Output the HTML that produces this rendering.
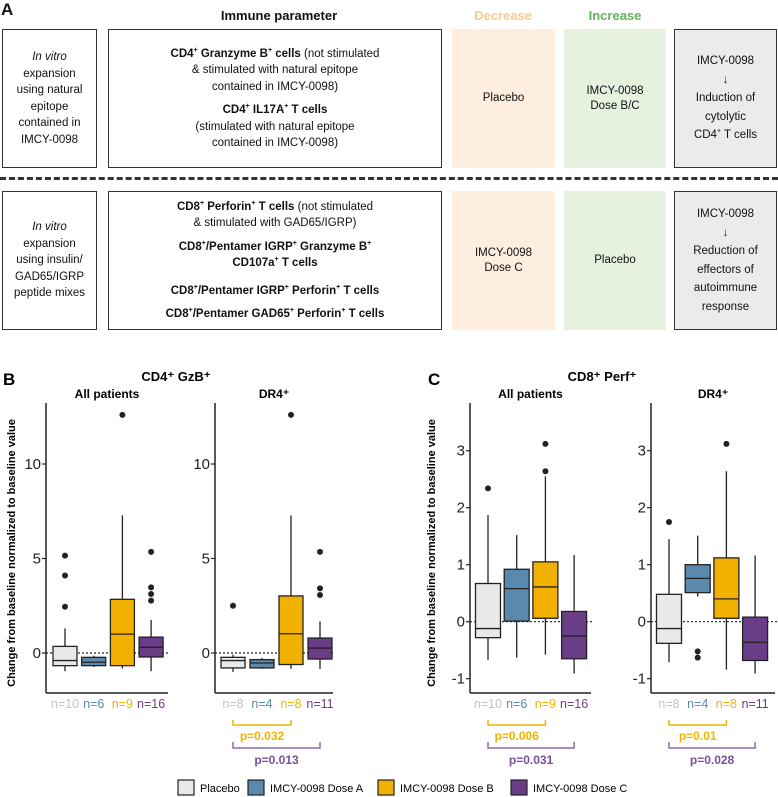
<!DOCTYPE html>
<html><head><meta charset="utf-8"><style>
body{margin:0;width:778px;height:797px;background:#fff;position:relative;overflow:hidden;font-family:"Liberation Sans",Arial,sans-serif;color:#111}
.a{position:absolute}
.box{position:absolute;box-sizing:border-box;border:1.5px solid #333;display:flex;align-items:center;justify-content:center;text-align:center;font-size:11.5px;line-height:16.5px}
.bg{position:absolute;display:flex;align-items:center;justify-content:center;text-align:center;font-size:11.5px;line-height:15px}
.hd{position:absolute;font-weight:bold;font-size:13px;transform:translateX(-50%)}
sup{font-size:7px;vertical-align:5px;line-height:0}
p{margin:0}
</style></head><body>
<div class="a" style="left:1px;top:0px;font-weight:bold;font-size:17px">A</div>
<div class="hd" style="left:279px;top:8px">Immune parameter</div>
<div class="hd" style="left:503px;top:8px;color:#f6cc8f">Decrease</div>
<div class="hd" style="left:615px;top:8px;color:#5fb55a">Increase</div>

<div class="box" style="left:2px;top:29px;width:95px;height:139px"><div><i>In vitro</i><br>expansion<br>using natural<br>epitope<br>contained in<br>IMCY-0098</div></div>
<div class="box" style="left:108px;top:29px;width:334px;height:139px"><div><p><b>CD4<sup>+</sup> Granzyme B<sup>+</sup> cells</b> (not stimulated<br>&amp; stimulated with natural epitope<br>contained in IMCY-0098)</p><p style="margin-top:7px"><b>CD4<sup>+</sup> IL17A<sup>+</sup> T cells</b><br>(stimulated with natural epitope<br>contained in IMCY-0098)</p></div></div>
<div class="bg" style="left:452px;top:29px;width:103px;height:139px;background:#fdeee0">Placebo</div>
<div class="bg" style="left:564px;top:29px;width:102px;height:139px;background:#e6f1e0">IMCY-0098<br>Dose B/C</div>
<div class="box" style="left:674px;top:29px;width:103px;height:139px;background:#ebebeb;line-height:18.5px"><div>IMCY-0098<br>↓<br>Induction of<br>cytolytic<br>CD4<sup>+</sup> T cells</div></div>

<div class="a" style="left:0;top:177px;width:778px;border-top:3px dashed #333"></div>

<div class="box" style="left:2px;top:191px;width:95px;height:139px"><div><i>In vitro</i><br>expansion<br>using insulin/<br>GAD65/IGRP<br>peptide mixes</div></div>
<div class="box" style="left:108px;top:191px;width:334px;height:139px"><div><p><b>CD8<sup>+</sup> Perforin<sup>+</sup> T cells</b> (not stimulated<br>&amp; stimulated with GAD65/IGRP)</p><p style="margin-top:7px"><b>CD8<sup>+</sup>/Pentamer IGRP<sup>+</sup> Granzyme B<sup>+</sup><br>CD107a<sup>+</sup> T cells</b></p><p style="margin-top:11px"><b>CD8<sup>+</sup>/Pentamer IGRP<sup>+</sup> Perforin<sup>+</sup> T cells</b></p><p style="margin-top:7px"><b>CD8<sup>+</sup>/Pentamer GAD65<sup>+</sup> Perforin<sup>+</sup> T cells</b></p></div></div>
<div class="bg" style="left:452px;top:191px;width:103px;height:139px;background:#fdeee0">IMCY-0098<br>Dose C</div>
<div class="bg" style="left:564px;top:191px;width:102px;height:139px;background:#e6f1e0">Placebo</div>
<div class="box" style="left:674px;top:191px;width:103px;height:139px;background:#ebebeb;line-height:18.5px"><div>IMCY-0098<br>↓<br>Reduction of<br>effectors of<br>autoimmune<br>response</div></div>

<svg id="chart" class="a" style="left:0;top:0" width="778" height="797" font-family="Liberation Sans, Arial, sans-serif"></svg>

<script>
// groups
const groups = ["Placebo","IMCY-0098 Dose A","IMCY-0098 Dose B","IMCY-0098 Dose C"];
const fills = ["#e9e9e9","#5b88ad","#f2b100","#6a3d87"];
const nColors = ["#c4c4c4","#5b88ad","#f0b400","#6a3d87"];
// stats per box: [whiskerLow, q1, median, q3, whiskerHigh]
const bAllStats = [[-0.96,-0.67,-0.4,0.35,1.3],[-0.74,-0.67,-0.49,-0.23,-0.14],[-0.82,-0.67,1.0,2.84,7.28],[-0.96,-0.21,0.3,0.84,1.75]];
const bAllOut = [[2.45,4.1,5.15],[],[12.6],[2.77,3.12,3.47,5.35]];
const bAllN = ["n=10","n=6","n=9","n=16"];
const bDrStats = [[-1.0,-0.79,-0.4,-0.23,-0.09],[-0.84,-0.79,-0.53,-0.35,-0.26],[-0.84,-0.61,1.02,3.02,7.28],[-0.84,-0.32,0.26,0.79,1.67]];
const bDrOut = [[2.5],[],[12.6],[3.07,3.42,5.35]];
const bDrN = ["n=8","n=4","n=8","n=11"];
const cAllStats = [[-0.67,-0.28,-0.12,0.67,1.87],[-0.63,0.01,0.58,0.92,1.52],[-0.58,0.06,0.61,1.05,2.55],[-0.91,-0.65,-0.25,0.18,1.17]];
const cAllOut = [[2.34],[],[2.64,3.12],[]];
const cAllN = ["n=10","n=6","n=9","n=16"];
const cDrStats = [[-0.71,-0.38,-0.12,0.48,1.45],[0.44,0.51,0.76,1.0,1.51],[-0.84,0.06,0.4,1.12,2.64],[-0.91,-0.68,-0.36,0.08,1.16]];
const cDrOut = [[1.75],[-0.52,-0.63],[3.12],[]];
const cDrN = ["n=8","n=4","n=8","n=11"];
const bTicks = [0,5,10];
const cTicks = [-1,0,1,2,3];
const cAllP = ["p=0.006","p=0.031"];
const cDrP = ["p=0.01","p=0.028"];
const bDrP = ["p=0.032","p=0.013"];

const svg = document.getElementById('chart');
const NS = "http://www.w3.org/2000/svg";
function mk(tag, at, txt){const e=document.createElementNS(NS,tag);for(const k in at)e.setAttribute(k,at[k]);if(txt!=null)e.textContent=txt;svg.appendChild(e);return e;}

function panel(o){
  const yS = v => o.y0 - v*o.ppu;
  const xS = i => o.ax + o.first + i*o.step;
  const g0 = mk('text',{x:(o.ax+o.axEnd)/2,y:398,'text-anchor':'middle','font-size':12,'font-weight':'bold'},o.title);
  
  
  let a = mk('line',{x1:o.ax,y1:403,x2:o.ax,y2:693,stroke:'#222','stroke-width':1.5});
  
  
  a = mk('line',{x1:o.ax,y1:693,x2:o.axEnd,y2:693,stroke:'#222','stroke-width':1.5});
  
  
  o.ticks.forEach(t=>{
    mk('line',{x1:o.ax-4,y1:yS(t),x2:o.ax,y2:yS(t),stroke:'#222','stroke-width':1.2});
    const tl = mk('text',{x:o.ax-5,y:yS(t)+5,'text-anchor':'end','font-size':15,fill:'#222'},String(t));
    
    
  });
  mk('line',{x1:o.ax,y1:yS(0),x2:o.axEnd+2,y2:yS(0),stroke:'#222','stroke-width':1.2,'stroke-dasharray':'2,2'});
  o.stats.forEach((s,i)=>{
    const cx=xS(i), w=o.bw;
    mk('line',{x1:cx,y1:yS(s[0]),x2:cx,y2:yS(s[4]),stroke:'#222','stroke-width':1.3});
    const r = mk('rect',{x:cx-w/2,y:yS(s[3]),width:w,height:yS(s[1])-yS(s[3]),fill:fills[i],stroke:'#222','stroke-width':1.3});
    
    
    mk('line',{x1:cx-w/2,y1:yS(s[2]),x2:cx+w/2,y2:yS(s[2]),stroke:'#222','stroke-width':1.3});
    o.out[i].forEach(v=>{
      const c = mk('circle',{cx:cx,cy:yS(v),r:3,fill:'#222'});
      
      
    });
    const n = mk('text',{x:cx,y:708,'text-anchor':'middle','font-size':12.5,fill:nColors[i]},o.n[i]);
    
    
  });
  if(o.p){
    const c1=xS(0), c2=xS(2), c3=xS(3);
    mk('path',{d:`M${c1} 720V725H${c2}V720`,fill:'none',stroke:'#f0b400','stroke-width':1.5});
    let p = mk('text',{x:(c1+c2)/2,y:740,'text-anchor':'middle','font-size':12,'font-weight':'bold',fill:'#f0b400'},o.p[0]);
    
    
    mk('path',{d:`M${c1} 742V748H${c3}V742`,fill:'none',stroke:'#8a6aa8','stroke-width':1.5});
    p = mk('text',{x:(c1+c3)/2,y:764,'text-anchor':'middle','font-size':12,'font-weight':'bold',fill:'#7a4f9c'},o.p[1]);
    
    
  }
}
panel({title:'All patients',ax:46,axEnd:168,first:19,step:28.7,bw:24,y0:653,ppu:18.9,ticks:bTicks,stats:bAllStats,out:bAllOut,n:bAllN});
panel({title:'DR4⁺',ax:215,axEnd:333,first:18,step:29,bw:24,y0:653,ppu:18.9,ticks:bTicks,stats:bDrStats,out:bDrOut,n:bDrN,p:bDrP});
panel({title:'All patients',ax:470,axEnd:591,first:18,step:28.7,bw:25,y0:621.7,ppu:57,ticks:cTicks,stats:cAllStats,out:cAllOut,n:cAllN,p:cAllP});
panel({title:'DR4⁺',ax:651,axEnd:775,first:18,step:28.7,bw:25,y0:621.7,ppu:57,ticks:cTicks,stats:cDrStats,out:cDrOut,n:cDrN,p:cDrP});

function txt(name,at,t){const e=mk('text',at,t);return e;}
txt('panel-b-label',{x:3,y:385,'font-size':17,'font-weight':'bold'},'B');
txt('panel-c-label',{x:428,y:385,'font-size':17,'font-weight':'bold'},'C');
txt('panel-b-title',{x:176,y:381,'font-size':13,'font-weight':'bold','text-anchor':'middle'},'CD4⁺ GzB⁺');
txt('panel-c-title',{x:602,y:381,'font-size':13,'font-weight':'bold','text-anchor':'middle'},'CD8⁺ Perf⁺');
txt('y-axis-title-b',{x:0,y:0,'font-size':11,'font-weight':'bold','text-anchor':'middle',transform:'translate(15,553) rotate(-90)'},'Change from baseline normalized to baseline value');
txt('y-axis-title-c',{x:0,y:0,'font-size':11,'font-weight':'bold','text-anchor':'middle',transform:'translate(435,553) rotate(-90)'},'Change from baseline normalized to baseline value');
const legX=[178,248,378,511];
groups.forEach((g,i)=>{
  const r=mk('rect',{x:legX[i],y:780,width:16,height:15,fill:fills[i],stroke:'#222','stroke-width':1.2});
  
  
  txt('legend-entry',{x:legX[i]+22,y:792,'font-size':11},g);
});
</script>
</body></html>
